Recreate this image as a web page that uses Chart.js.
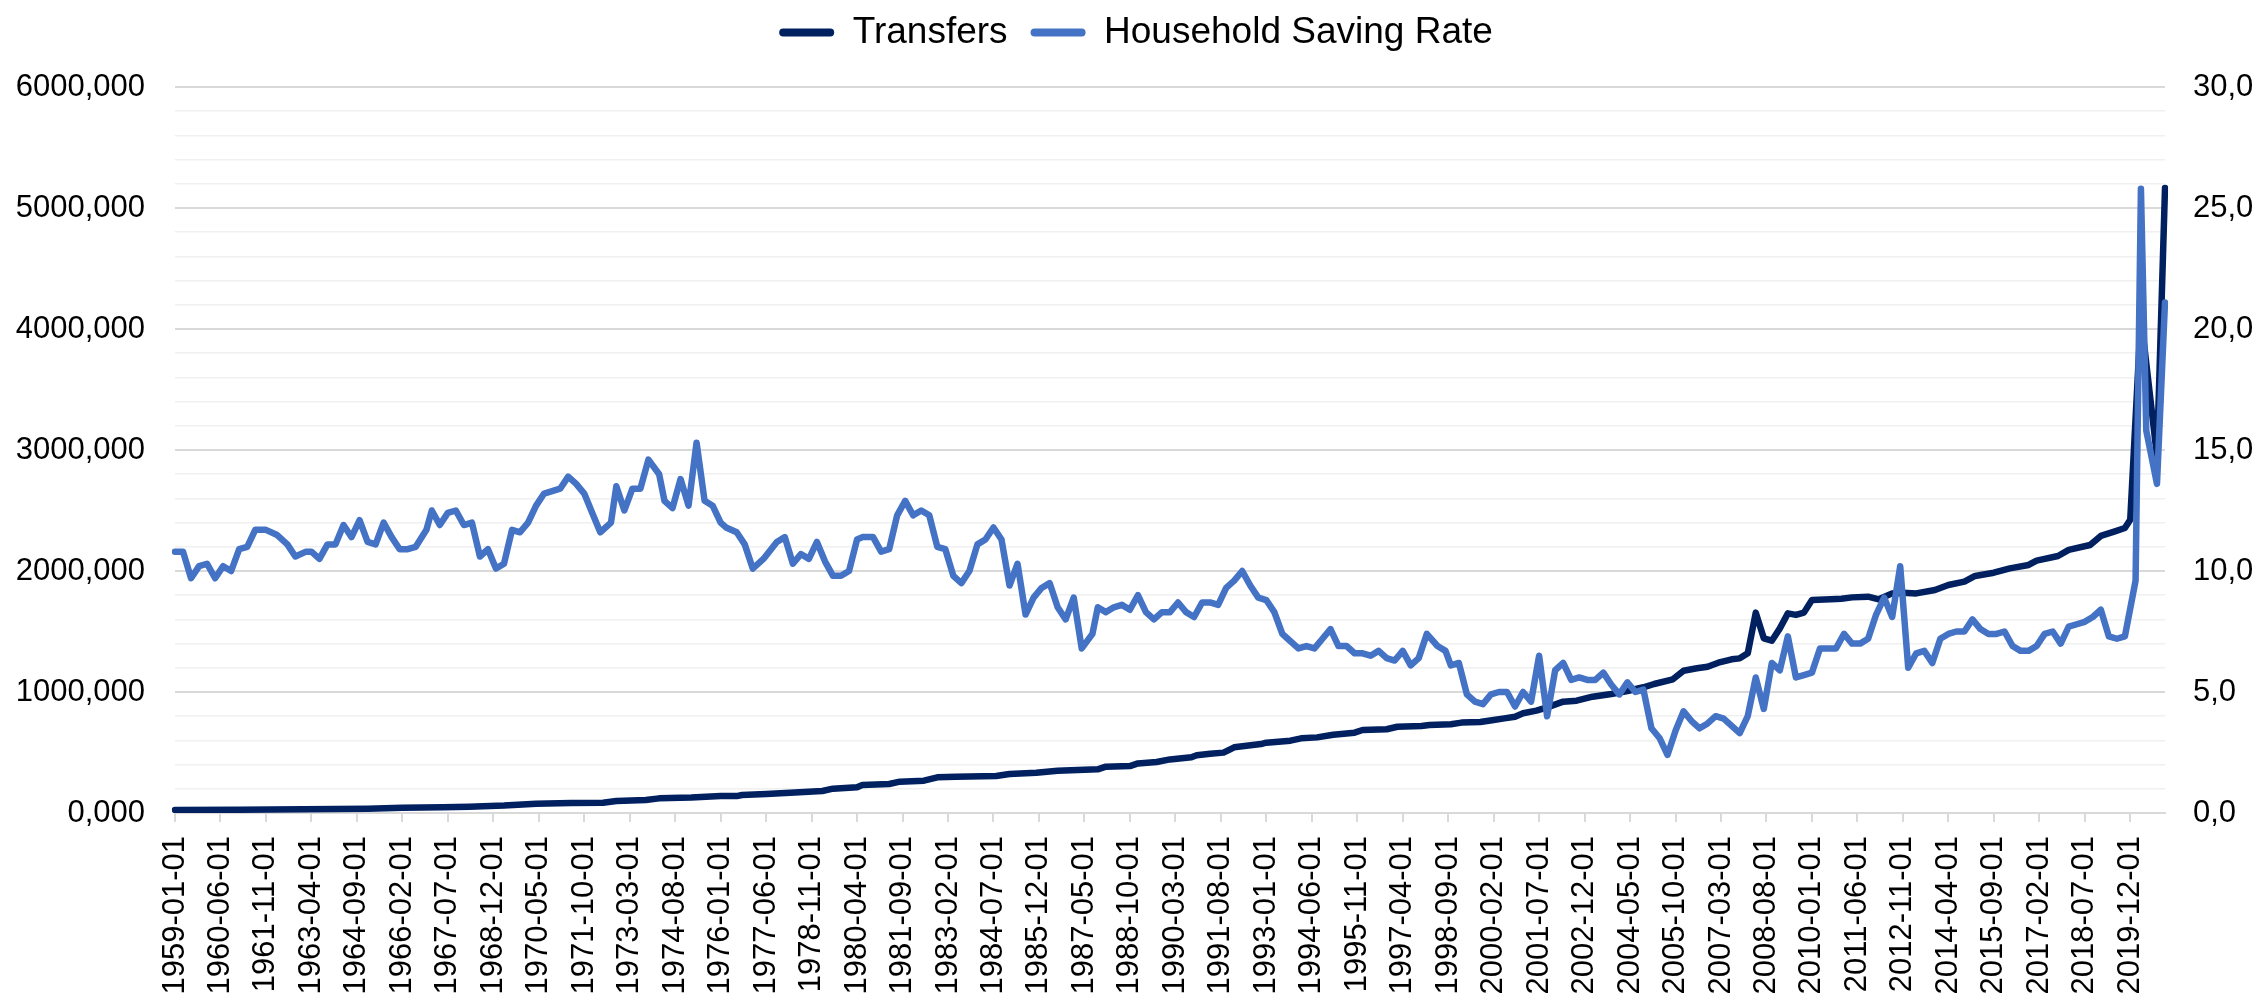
<!DOCTYPE html>
<html>
<head>
<meta charset="utf-8">
<title>Transfers vs Household Saving Rate</title>
<script src="https://cdn.jsdelivr.net/npm/chart.js@4.4.0/dist/chart.umd.min.js"></script>
<style>
  html, body { margin: 0; padding: 0; background: #fff; }
  #wrap { width: 2262px; height: 996px; }
</style>
</head>
<body>
<div id="wrap"><canvas id="savingChart"></canvas></div>
<script>
// monthly categories 1959-01-01 .. 2021-01-01, a label every 17 months
const firstYear = 1959;
const monthCount = 745;
const labelEvery = 17;

const months = [];
for (let i = 0; i < monthCount; i++) {
  const y = firstYear + Math.floor(i / 12);
  const m = String(i % 12 + 1).padStart(2, '0');
  months.push(`${y}-${m}-01`);
}

// values, at the months where the line visibly turns
// (month index: 0 = 1959-01)
const transferMonth = [
  0, 24, 48, 72, 85, 100, 110, 123, 135, 148,
  160, 165, 176, 181, 193, 204, 210, 212, 221, 230,
  242, 246, 255, 257, 267, 271, 280, 285, 292, 307,
  312, 322, 330, 345, 348, 357, 360, 367, 372, 380,
  382, 387, 392, 396, 406, 408, 417, 421, 427, 433,
  441, 444, 453, 457, 466, 469, 477, 481, 488, 493,
  497, 501, 504, 509, 513, 519, 524, 530, 537, 543,
  549, 553, 560, 564, 569, 573, 577, 582, 585, 588,
  591, 594, 597, 600, 603, 606, 609, 612, 619, 623,
  627, 633, 637, 642, 646, 651, 658, 663, 669, 673,
  680, 686, 693, 696, 704, 708, 716, 720, 725, 729,
  731, 735, 741, 744
];
const transfers = [
  25, 27, 30, 35, 44, 48, 52, 61, 77, 83,
  85, 99, 107, 121, 128, 140, 140, 149, 157, 168,
  182, 201, 212, 231, 240, 259, 267, 295, 300, 306,
  322, 333, 350, 361, 383, 388, 410, 421, 443, 460,
  477, 490, 499, 543, 570, 581, 598, 617, 625, 647,
  664, 686, 692, 713, 719, 727, 733, 747, 752, 769,
  782, 796, 824, 846, 873, 920, 928, 961, 984, 1008,
  1039, 1066, 1105, 1176, 1196, 1209, 1242, 1270, 1278, 1320,
  1656, 1444, 1424, 1526, 1650, 1637, 1656, 1760, 1766, 1771,
  1782, 1788, 1766, 1815, 1821, 1815, 1843, 1884, 1912, 1959,
  1986, 2022, 2050, 2086, 2124, 2174, 2215, 2290, 2325, 2355,
  2424, 4100, 2950, 5165
];

const savingMonth = [
  0, 3, 6, 9, 12, 15, 18, 21, 24, 27,
  30, 34, 38, 42, 45, 49, 51, 54, 57, 60,
  63, 66, 69, 72, 75, 78, 81, 84, 87, 90,
  94, 96, 99, 102, 105, 108, 111, 114, 117, 120,
  123, 126, 129, 132, 135, 138, 141, 144, 147, 150,
  153, 156, 159, 163, 165, 168, 171, 174, 177, 181,
  183, 186, 189, 192, 195, 198, 201, 204, 206, 210,
  213, 216, 220, 225, 228, 231, 234, 237, 240, 243,
  246, 249, 252, 255, 257, 261, 264, 267, 270, 273,
  276, 279, 282, 285, 288, 291, 294, 297, 300, 303,
  306, 309, 312, 315, 318, 321, 324, 327, 330, 333,
  336, 339, 343, 345, 348, 351, 354, 357, 360, 363,
  366, 369, 372, 375, 378, 381, 384, 387, 390, 393,
  396, 399, 402, 405, 408, 411, 414, 416, 420, 423,
  426, 429, 432, 435, 438, 441, 444, 447, 450, 453,
  456, 459, 462, 465, 468, 472, 475, 477, 480, 483,
  486, 489, 492, 495, 498, 501, 504, 507, 510, 513,
  516, 519, 522, 525, 528, 531, 534, 537, 540, 543,
  546, 549, 552, 555, 558, 561, 564, 567, 570, 573,
  576, 579, 582, 585, 588, 591, 594, 597, 600, 603,
  606, 609, 612, 615, 618, 621, 624, 627, 630, 633,
  636, 639, 642, 645, 648, 651, 654, 657, 660, 663,
  666, 669, 672, 675, 678, 681, 684, 687, 690, 693,
  696, 699, 702, 705, 708, 711, 714, 717, 720, 723,
  726, 729, 733, 735, 737, 741, 744
];
const savingRate = [
  10.8, 10.8, 9.7, 10.2, 10.3, 9.7, 10.2, 10.0, 10.9, 11.0,
  11.7, 11.7, 11.5, 11.1, 10.6, 10.8, 10.8, 10.5, 11.1, 11.1,
  11.9, 11.4, 12.1, 11.2, 11.1, 12.0, 11.4, 10.9, 10.9, 11.0,
  11.7, 12.5, 11.9, 12.4, 12.5, 11.9, 12.0, 10.6, 10.9, 10.1,
  10.3, 11.7, 11.6, 12.0, 12.7, 13.2, 13.3, 13.4, 13.9, 13.6,
  13.2, 12.4, 11.6, 12.0, 13.5, 12.5, 13.4, 13.4, 14.6, 14.0,
  12.9, 12.6, 13.8, 12.7, 15.3, 12.9, 12.7, 12.0, 11.8, 11.6,
  11.1, 10.1, 10.5, 11.2, 11.4, 10.3, 10.7, 10.5, 11.2, 10.4,
  9.8, 9.8, 10.0, 11.3, 11.4, 11.4, 10.8, 10.9, 12.3, 12.9,
  12.3, 12.5, 12.3, 11.0, 10.9, 9.8, 9.5, 10.0, 11.1, 11.3,
  11.8, 11.3, 9.4, 10.3, 8.2, 8.9, 9.3, 9.5, 8.5, 8.0,
  8.9, 6.8, 7.4, 8.5, 8.3, 8.5, 8.6, 8.4, 9.0, 8.3,
  8.0, 8.3, 8.3, 8.7, 8.3, 8.1, 8.7, 8.7, 8.6, 9.3,
  9.6, 10.0, 9.4, 8.9, 8.8, 8.3, 7.4, 7.2, 6.8, 6.9,
  6.8, 7.2, 7.6, 6.9, 6.9, 6.6, 6.6, 6.5, 6.7, 6.4,
  6.3, 6.7, 6.1, 6.4, 7.4, 6.9, 6.7, 6.1, 6.2, 4.9,
  4.6, 4.5, 4.9, 5.0, 5.0, 4.4, 5.0, 4.6, 6.5, 4.0,
  5.9, 6.2, 5.5, 5.6, 5.5, 5.5, 5.8, 5.3, 4.9, 5.4,
  5.0, 5.1, 3.5, 3.1, 2.4, 3.4, 4.2, 3.8, 3.5, 3.7,
  4.0, 3.9, 3.6, 3.3, 4.0, 5.6, 4.3, 6.2, 5.9, 7.3,
  5.6, 5.7, 5.8, 6.8, 6.8, 6.8, 7.4, 7.0, 7.0, 7.2,
  8.2, 8.9, 8.1, 10.2, 6.0, 6.6, 6.7, 6.2, 7.2, 7.4,
  7.5, 7.5, 8.0, 7.6, 7.4, 7.4, 7.5, 6.9, 6.7, 6.7,
  6.9, 7.4, 7.5, 7.0, 7.7, 7.8, 7.9, 8.1, 8.4, 7.3,
  7.2, 7.3, 9.6, 25.8, 15.8, 13.6, 21.1
];

const navy = '#002060';
const blue = '#4472C4';

Chart.defaults.font.family = '"Liberation Sans", Arial, sans-serif';
Chart.defaults.color = '#000';

// legend sits a little higher than Chart.js puts it, and the plot starts lower
const legendSpot = {
  id: 'legendSpot',
  beforeInit(chart) {
    const legend = chart.legend;
    const fit = legend.fit;
    const draw = legend.draw;
    legend.fit = function () {
      fit.call(this);
      this.height += 17;
    };
    legend.draw = function () {
      const ctx = this.ctx;
      ctx.save();
      ctx.translate(5, -9);
      draw.call(this);
      ctx.restore();
    };
  }
};

new Chart(document.getElementById('savingChart'), {
  type: 'line',
  data: {
    labels: months,
    datasets: [{
      label: 'Transfers',
      data: transferMonth.map((m, k) => ({ x: months[m], y: transfers[k] })),
      yAxisID: 'y',
      borderColor: navy,
      backgroundColor: navy,
      borderWidth: 6.5,
      order: 1
    }, {
      label: 'Household Saving Rate',
      data: savingMonth.map((m, k) => ({ x: months[m], y: savingRate[k] })),
      yAxisID: 'y1',
      borderColor: blue,
      backgroundColor: blue,
      borderWidth: 6.5,
      order: 0
    }]
  },
  options: {
    responsive: true,
    maintainAspectRatio: false,
    animation: false,
    devicePixelRatio: 1,
    layout: { padding: 0 },
    elements: {
      point: { radius: 0, hoverRadius: 0 },
      line: { tension: 0, borderJoinStyle: 'round', borderCapStyle: 'round' }
    },
    plugins: {
      tooltip: { enabled: false },
      legend: {
        position: 'top',
        labels: {
          font: { size: 37 },
          color: '#000',
          boxWidth: 55,
          boxHeight: 8,
          padding: 23,
          useBorderRadius: true,
          borderRadius: 4,
          sort: (a, b) => a.datasetIndex - b.datasetIndex,
          generateLabels: chart =>
            Chart.defaults.plugins.legend.labels.generateLabels(chart)
              .map(l => ({ ...l, lineWidth: 0, fillStyle: l.strokeStyle }))
        }
      }
    },
    scales: {
      x: {
        type: 'category',
        offset: false,
        afterBuildTicks: axis => {
          axis.ticks = axis.ticks.filter(t => t.value % labelEvery === 0);
        },
        afterFit: axis => { axis.height = 183; },
        ticks: {
          autoSkip: false,
          minRotation: 90,
          maxRotation: 90,
          padding: 14,
          font: { size: 31 },
          color: '#000'
        },
        grid: {
          drawOnChartArea: false,
          drawTicks: true,
          tickLength: 9,
          color: '#d9d9d9',
          lineWidth: 2
        },
        border: { display: true, color: '#d9d9d9', width: 2 }
      },
      y: {
        position: 'left',
        min: 0,
        max: 6000,
        afterFit: axis => { axis.width = 175; },
        ticks: {
          stepSize: 200,
          autoSkip: false,
          padding: 30,
          font: { size: 31 },
          color: '#000',
          callback: v => (v % 1000 === 0 ? v.toFixed(3).replace('.', ',') : '')
        },
        grid: {
          drawTicks: false,
          color: c => (c.tick.value % 1000 === 0 ? '#d9d9d9' : '#f0f0f0'),
          lineWidth: c => (c.tick.value % 1000 === 0 ? 2 : 1.5)
        },
        border: { display: false }
      },
      y1: {
        position: 'right',
        min: 0,
        max: 30,
        afterFit: axis => { axis.width = 97; },
        ticks: {
          stepSize: 5,
          padding: 28,
          font: { size: 31 },
          color: '#000',
          callback: v => v.toFixed(1).replace('.', ',')
        },
        grid: { drawOnChartArea: false, drawTicks: false },
        border: { display: false }
      }
    }
  },
  plugins: [legendSpot]
});
</script>
</body>
</html>
